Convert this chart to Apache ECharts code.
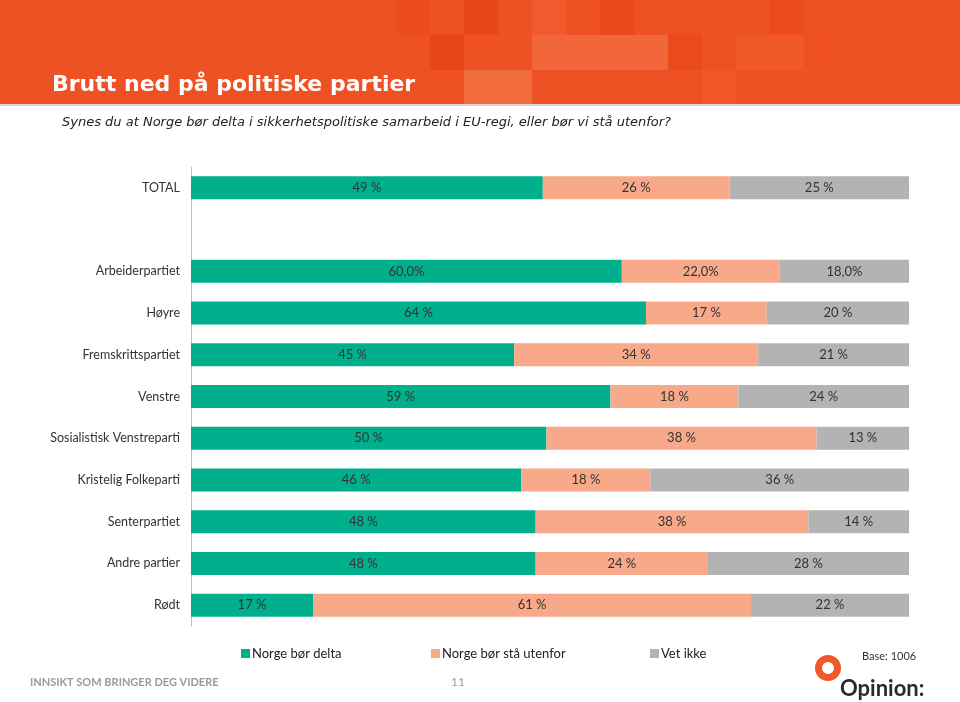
<!DOCTYPE html>
<html>
<head>
<meta charset="utf-8">
<script src="https://cdn.jsdelivr.net/npm/echarts@6/dist/echarts.min.js"></script>
<style>
html,body{margin:0;padding:0;background:#fff;}
#c{width:960px;height:702px;}
</style>
</head>
<body>
<div id="c"></div>
<script>
var categories = ['TOTAL', '', 'Arbeiderpartiet', 'Høyre', 'Fremskrittspartiet', 'Venstre', 'Sosialistisk Venstreparti', 'Kristelig Folkeparti', 'Senterpartiet', 'Andre partier', 'Rødt'];
var seriesNames = ['Norge bør delta', 'Norge bør stå utenfor', 'Vet ikke'];
var delta   = [49, null, 60, 64, 45, 59, 50, 46, 48, 48, 17];
var utenfor = [26, null, 22, 17, 34, 18, 38, 18, 38, 24, 61];
var vetIkke = [25, null, 18, 20, 21, 24, 13, 36, 14, 28, 22];
var labelDecimals = [0, 0, 1, 0, 0, 0, 0, 0, 0, 0, 0];
var colors = ['#00B08C', '#F7A98A', '#B3B3B3'];

var FONT = 'Lato, "Noto Sans", sans-serif';
var HFONT = '"DejaVu Sans", sans-serif';
var raw = [delta, utenfor, vetIkke];

function fmt(v, i) {
  if (labelDecimals[i] > 0) return v.toFixed(labelDecimals[i]).replace('.', ',') + '%';
  return v + ' %';
}

var series = raw.map(function (arr, s) {
  return {
    name: seriesNames[s],
    type: 'bar',
    stack: 'all',
    barWidth: 23,
    itemStyle: { color: colors[s] },
    label: {
      show: true,
      position: 'inside',
      color: '#333',
      fontSize: 13,
      fontFamily: FONT,
      formatter: function (p) { return p.data.raw == null ? '' : fmt(p.data.raw, p.dataIndex); }
    },
    data: arr.map(function (v, i) {
      if (v == null) return { value: '-', raw: null };
      var sum = delta[i] + utenfor[i] + vetIkke[i];
      return { value: v / sum * 100, raw: v };
    })
  };
});

var tiles = [
  [396, 0, 34, 35, '#EC4C1E'], [464, 0, 34, 35, '#EA461B'], [532, 0, 34, 35, '#F05A2C'],
  [600, 0, 34, 35, '#EA471C'], [430, 35, 34, 35, '#E9451A'], [532, 35, 136, 35, '#F1663A'],
  [464, 70, 68, 35, '#F16C3D'], [668, 35, 34, 35, '#EB4A1C'], [736, 35, 68, 35, '#F05A2A'],
  [770, 0, 34, 35, '#EC4B1D'], [702, 70, 34, 35, '#F05628'], [804, 35, 34, 35, '#EE5022']
];
var graphics = [
  { type: 'rect', shape: { x: 0, y: 0, width: 960, height: 105 }, style: { fill: '#EE5224' }, z: 0 }
];
tiles.forEach(function (t) {
  graphics.push({ type: 'rect', shape: { x: t[0], y: t[1], width: t[2], height: t[3] }, style: { fill: t[4] }, z: 1 });
});
graphics.push(
  { type: 'rect', shape: { x: 0, y: 104, width: 960, height: 2 }, style: { fill: '#D9D2CF' }, z: 1 },
  { type: 'text', left: 52, top: 74, style: { text: 'Brutt ned på politiske partier', fill: '#fff', font: 'bold 22px ' + HFONT }, z: 2 },
  { type: 'text', left: 62, top: 116, style: { text: 'Synes du at Norge bør delta i sikkerhetspolitiske samarbeid i EU-regi, eller bør vi stå utenfor?', fill: '#222', font: 'italic 13px ' + HFONT }, z: 2 },
  { type: 'text', left: 30, top: 677, style: { text: 'INNSIKT SOM BRINGER DEG VIDERE', fill: '#9A9A9A', font: 'bold 11px ' + FONT }, z: 2 },
  { type: 'text', left: 451, top: 676, style: { text: '11', fill: '#A0A0A0', font: '12px ' + FONT }, z: 2 },
  { type: 'text', left: 862, top: 651, style: { text: 'Base: 1006', fill: '#333', font: '11px ' + FONT }, z: 2 },
  { type: 'ring', shape: { cx: 828, cy: 668, r: 13, r0: 6 }, style: { fill: '#EE5A2A' }, z: 2 },
  { type: 'text', left: 840, top: 678, style: { text: 'Opinion:', fill: '#2A2A2A', font: 'bold 22px ' + FONT }, z: 2 }
);

var legendPos = [236, 426, 645];
var legends = seriesNames.map(function (n, i) {
  return {
    data: [n], left: legendPos[i], top: 642, itemWidth: 9, itemHeight: 9, itemGap: 4,
    icon: 'rect', textStyle: { fontSize: 13, color: '#222', fontFamily: FONT, padding: [0, 0, 0, -3] }
  };
});

var chart = echarts.init(document.getElementById('c'));
chart.setOption({
  animation: false,
  backgroundColor: '#fff',
  color: colors,
  legend: legends,
  grid: { left: 191, right: 51, top: 167, height: 459 },
  xAxis: { type: 'value', min: 0, max: 100, show: false },
  yAxis: {
    type: 'category', inverse: true, data: categories,
    axisLine: { show: true, lineStyle: { color: '#BFBFBF', width: 1 } },
    axisTick: { show: false },
    axisLabel: { color: '#333', fontSize: 12.5, fontFamily: FONT, margin: 11 }
  },
  graphic: graphics,
  series: series
});
</script>
</body>
</html>
